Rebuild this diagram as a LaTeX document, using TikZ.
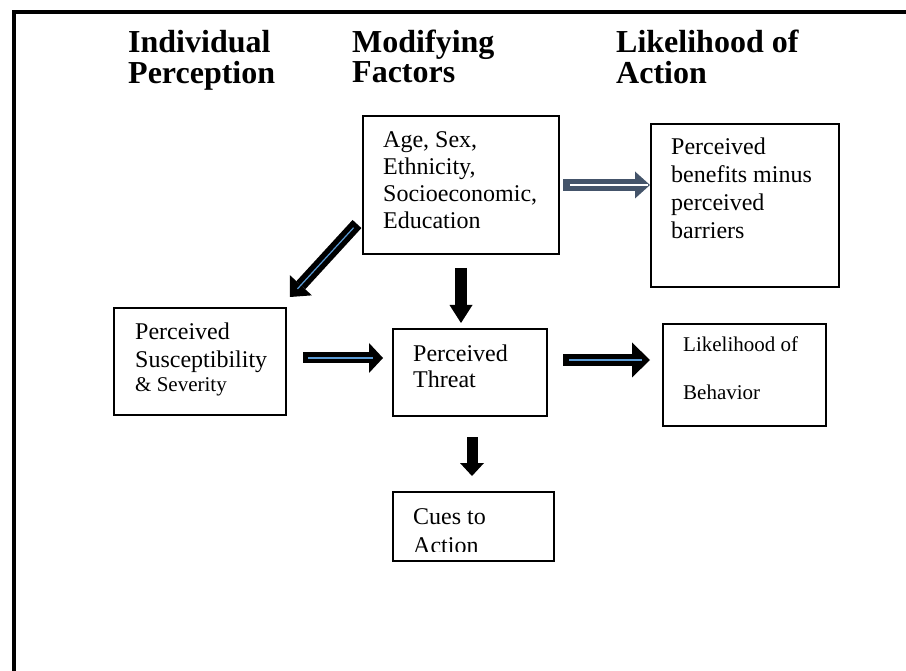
\documentclass[tikz,border=0pt]{standalone}
\usepackage{fontspec}
\setmainfont{Liberation Serif}
\usetikzlibrary{arrows.meta,calc}
\definecolor{slate}{HTML}{44546A}
\definecolor{lblue}{HTML}{5B9BD5}
\newcommand{\lns}[1]{\begin{tabular}[t]{@{}l@{}}#1\end{tabular}}
\begin{document}
\begin{tikzpicture}[x=1pt,y=-1pt,
  box/.style={draw, line width=2pt, inner sep=0pt, anchor=north west},
  txt/.style={anchor=base west, inner sep=0pt},
  head/.style={txt, font=\fontsize{32}{29}\selectfont\bfseries},
  body/.style={txt, font=\fontsize{24}{27}\selectfont},
  barrow/.style n args={3}{line width=#1, -{Triangle[length=#3,width=#2,line width=0pt]}},
  inner/.style={line width=1.6pt}]
\useasboundingbox (0,0) rectangle (906,671);
\fill[white] (0,0) rectangle (906,671);
\begin{scope}
  \clip (0,0) rectangle (906,671);
  \draw[line width=4pt] (14,12) rectangle (1000,800);
\end{scope}

% headings
\node[head] (h1) at (128,53) {\lns{Individual\\Perception}};
\node[head] (h2) at (352,53) {\lns{Modifying\\Factors}};
\node[head] (h3) at (616,53) {\lns{Likelihood of\\Action}};

% boxes
\node[box, minimum width=196pt, minimum height=138pt] (age) at (362,115) {};
\node[box, minimum width=188pt, minimum height=163pt] (ben) at (650,123) {};
\node[box, minimum width=172pt, minimum height=107pt] (sus) at (113,307) {};
\node[box, minimum width=154pt, minimum height=87pt]  (thr) at (392,328) {};
\node[box, minimum width=163pt, minimum height=102pt] (beh) at (662,323) {};
\node[box, minimum width=161pt, minimum height=69pt]  (cue) at (392,491) {};

% texts
\node[body] (agetxt) at (383,148) {\lns{Age, Sex,\\Ethnicity,\\Socioeconomic,\\Education}};
\node[body, font=\fontsize{24}{27.7}\selectfont] (bentxt) at (671,155) {\lns{Perceived\\benefits minus\\perceived\\barriers}};
\node[body, font=\fontsize{24}{28}\selectfont] (sustxt) at (135,340) {\lns{Perceived\\Susceptibility\\[-4pt]{\fontsize{21}{24}\selectfont \& Severity}}};
\node[body, font=\fontsize{24}{26}\selectfont] (thrtxt) at (413,362) {\lns{Perceived\\Threat}};
\node[body, font=\fontsize{21}{24}\selectfont] (behtxt) at (683,352) {\lns{Likelihood of\\[24pt]Behavior}};
\begin{scope}
  \clip (380,480) rectangle (560,551);
  \node[body, font=\fontsize{24}{29}\selectfont] (cuetxt) at (413,524) {\lns{Cues to\\Action}};
\end{scope}

% arrows
% age -> benefits
\draw[barrow={12pt}{27pt}{15pt}, slate] ($(age.east)+(3,0)$) -- (age.east -| ben.west);
\draw[inner, white, shorten <=7pt, shorten >=2pt] ($(age.east)+(3,0)$) -- (age.east -| ben.west);
% age -> susceptibility
\draw[barrow={12pt}{30pt}{16pt}, black] ($(age.south west)+(-5,-31)$) -- ($(sus.north east)+(3,-10)$);
\draw[inner, lblue, line width=1.2pt, shorten <=5pt, shorten >=11pt] ($(age.south west)+(-5,-31)$) -- ($(sus.north east)+(3,-10)$);
% age -> threat
\draw[barrow={12pt}{23pt}{18pt}, black] ($(age.south)+(0,13)$) -- ($(age.south |- thr.north)+(0,-5)$);
% susceptibility -> threat
\draw[barrow={11pt}{30pt}{14pt}, black] ($(sus.east)+(16,-3.5)$) -- ($(thr.west |- sus.east)+(-9,-3.5)$);
\draw[inner, lblue, line width=2pt, shorten <=5pt, shorten >=10pt] ($(sus.east)+(16,-3.5)$) -- ($(thr.west |- sus.east)+(-9,-3.5)$);
% threat -> behavior
\draw[barrow={12pt}{35pt}{18pt}, black] ($(thr.east)+(15,-12.5)$) -- ($(thr.east -| beh.west)+(-12,-12.5)$);
\draw[inner, lblue, line width=2pt, shorten <=6pt, shorten >=8pt] ($(thr.east)+(15,-12.5)$) -- ($(thr.east -| beh.west)+(-12,-12.5)$);
% threat -> cues
\draw[barrow={11pt}{24pt}{13pt}, black] ($(thr.south)+(2,20)$) -- ($(thr.south |- cue.north)+(2,-15)$);
\end{tikzpicture}
\end{document}
